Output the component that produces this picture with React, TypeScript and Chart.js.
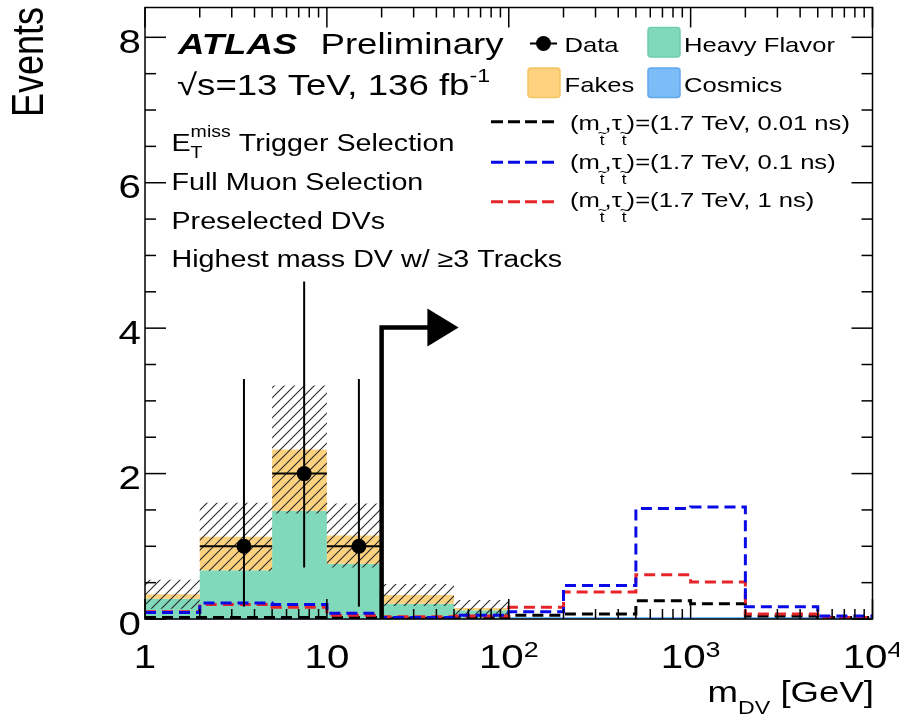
import React, { useEffect, useRef } from "react";
import { Chart, registerables } from "chart.js";

Chart.register(...registerables);

// ---------------- data ----------------
const binEdges = [1, 2, 5, 10, 20, 50, 100, 200, 500, 1000, 2000, 5000, 10000];
const cosmics = [0.01, 0.01, 0.01, 0.01, 0.01, 0.01, 0.01, 0.01, 0.01, 0.01, 0.01, 0.01];
const heavyFlavor = [0.27, 0.66, 1.48, 0.75, 0.2, 0.11, 0, 0, 0, 0, 0, 0];
const fakes = [0.06, 0.46, 0.84, 0.39, 0.12, 0.03, 0, 0, 0, 0, 0, 0];
const bkgUncertainty = [0.2, 0.47, 0.88, 0.44, 0.15, 0.11, 0, 0, 0, 0, 0, 0];

const dataX = [3.5, 7.5, 15];
const dataY = [1, 2, 1];
const dataBinLow = [2, 5, 10];
const dataBinHigh = [5, 10, 20];
const dataErrLow = [0.83, 1.29, 0.83];
const dataErrHigh = [2.3, 2.64, 2.3];

const signal001ns = [0.02, 0.02, 0.02, 0.02, 0.01, 0.02, 0.05, 0.07, 0.25, 0.21, 0.04, 0.02];
const signal01ns = [0.09, 0.22, 0.2, 0.08, 0.02, 0.05, 0.1, 0.46, 1.52, 1.54, 0.17, 0.04];
const signal1ns = [0.1, 0.2, 0.16, 0.05, 0.03, 0.04, 0.16, 0.37, 0.61, 0.51, 0.07, 0.02];

const yMajorTicks = [0, 2, 4, 6, 8];
const yMinorStep = 0.5;
const xMajorTicks = [1, 10, 100, 1000, 10000];
const xTickBase = ["1", "10", "10", "10", "10"];
const xTickExp = ["", "", "2", "3", "4"];
const xMinorMultipliers = [2, 3, 4, 5, 6, 7, 8, 9];

const cutValue = 20;
const arrowHeight = 4.01;
const arrowHeadBase = 35.7;
const arrowTip = 53;

// ---------------- helpers ----------------
const FONT = '"Liberation Sans", Arial, Helvetica, sans-serif';
const SX = 1.22;

const GREEN = "#80d9bb";
const ORANGE = "#fdd27f";
const LBLUE = "#7cbcf7";
const C_BLACK = "#000000";
const C_BLUE = "#0a0ae6";
const C_RED = "#e8242b";

type Seg = { t: string; size: number; dy?: number; ox?: number; adv?: boolean; style?: string };

function fontStr(s: Seg) {
  return `${s.style ? s.style + " " : ""}${s.size}px ${FONT}`;
}
function segWidth(ctx: CanvasRenderingContext2D, s: Seg) {
  ctx.save();
  ctx.font = fontStr(s);
  const w = ctx.measureText(s.t).width * SX;
  ctx.restore();
  return w;
}
function richWidth(ctx: CanvasRenderingContext2D, segs: Seg[]) {
  let w = 0;
  for (const s of segs) if (s.adv !== false) w += segWidth(ctx, s);
  return w;
}
function drawRich(ctx: CanvasRenderingContext2D, segs: Seg[], x: number, y: number, color = "#000") {
  let cx = x;
  for (const s of segs) {
    ctx.save();
    ctx.translate(cx + (s.ox || 0), y + (s.dy || 0));
    ctx.scale(SX, 1);
    ctx.font = fontStr(s);
    ctx.fillStyle = color;
    ctx.textAlign = "left";
    ctx.textBaseline = "alphabetic";
    ctx.fillText(s.t, 0, 0);
    ctx.restore();
    if (s.adv !== false) cx += segWidth(ctx, s);
  }
  return cx - x;
}

function stepPoints(vals: number[]) {
  return binEdges.map((x, i) => ({ x, y: vals[Math.min(i, vals.length - 1)] }));
}
function addArr(a: number[], b: number[]) {
  return a.map((v, i) => v + b[i]);
}

function makeHatch(): CanvasPattern | string {
  const c = document.createElement("canvas");
  c.width = 10;
  c.height = 10;
  const g = c.getContext("2d");
  if (!g) return "rgba(0,0,0,0.2)";
  g.strokeStyle = "#2a2a2a";
  g.lineWidth = 1.1;
  g.beginPath();
  g.moveTo(-1, 11);
  g.lineTo(11, -1);
  g.moveTo(-1, 1);
  g.lineTo(1, -1);
  g.moveTo(9, 11);
  g.lineTo(11, 9);
  g.stroke();
  return g.createPattern(c, "repeat") || "rgba(0,0,0,0.2)";
}

function tildeT(size: number, dy: number): Seg[] {
  // subscript t with a tilde on top
  return [
    { t: "~", size: size * 0.95, dy: dy - 8, ox: -2, adv: false },
    { t: "t", size, dy },
  ];
}

const overlay = {
  id: "overlay",
  afterDatasetsDraw(chart: any) {
    const ctx: CanvasRenderingContext2D = chart.ctx;
    const xs = chart.scales.x;
    const ys = chart.scales.y;
    const { left, right, top, bottom } = chart.chartArea;
    const line = (x1: number, y1: number, x2: number, y2: number) => {
      ctx.beginPath();
      ctx.moveTo(x1, y1);
      ctx.lineTo(x2, y2);
      ctx.stroke();
    };

    ctx.save();
    // data error bars
    ctx.strokeStyle = "#000";
    ctx.lineWidth = 2;
    for (let i = 0; i < dataX.length; i++) {
      const px = xs.getPixelForValue(dataX[i]);
      const py = ys.getPixelForValue(dataY[i]);
      line(px, ys.getPixelForValue(dataY[i] - dataErrLow[i]), px, ys.getPixelForValue(dataY[i] + dataErrHigh[i]));
      line(xs.getPixelForValue(dataBinLow[i]), py, xs.getPixelForValue(dataBinHigh[i]), py);
    }

    // cut arrow
    const ax = xs.getPixelForValue(cutValue);
    const ay = ys.getPixelForValue(arrowHeight);
    const ab = xs.getPixelForValue(arrowHeadBase);
    const at = xs.getPixelForValue(arrowTip);
    ctx.lineWidth = 4.5;
    ctx.lineJoin = "miter";
    ctx.beginPath();
    ctx.moveTo(ax, ys.getPixelForValue(0));
    ctx.lineTo(ax, ay);
    ctx.lineTo(ab + 1, ay);
    ctx.stroke();
    ctx.fillStyle = "#000";
    ctx.beginPath();
    ctx.moveTo(ab, ay - 19);
    ctx.lineTo(at, ay);
    ctx.lineTo(ab, ay + 19);
    ctx.closePath();
    ctx.fill();

    // frame
    ctx.lineWidth = 1.5;
    ctx.lineJoin = "miter";
    ctx.strokeRect(left, top, right - left, bottom - top);

    // y ticks
    for (let v = 0; v <= ys.max + 1e-9; v += yMinorStep) {
      const y = ys.getPixelForValue(v);
      const major = yMajorTicks.some((t) => Math.abs(t - v) < 1e-6);
      const L = major ? 21 : 11;
      line(left, y, left + L, y);
      line(right, y, right - L, y);
    }
    // x ticks
    for (let d = 0; d < xMajorTicks.length; d++) {
      const base = xMajorTicks[d];
      const x = xs.getPixelForValue(base);
      line(x, bottom, x, bottom - 20);
      line(x, top, x, top + 20);
      if (d < xMajorTicks.length - 1) {
        for (const m of xMinorMultipliers) {
          const xm = xs.getPixelForValue(base * m);
          line(xm, bottom, xm, bottom - 10);
          line(xm, top, xm, top + 10);
        }
      }
    }

    // y tick labels
    for (const v of yMajorTicks) {
      const y = ys.getPixelForValue(v);
      const segs: Seg[] = [{ t: String(v), size: 33 }];
      const w = richWidth(ctx, segs);
      drawRich(ctx, segs, 141 - w, y + 15.5);
    }
    // x tick labels
    for (let i = 0; i < xMajorTicks.length; i++) {
      const x = xs.getPixelForValue(xMajorTicks[i]);
      const segs: Seg[] = [{ t: xTickBase[i], size: 33 }];
      if (xTickExp[i]) segs.push({ t: xTickExp[i], size: 22, dy: -11 });
      const w = richWidth(ctx, segs);
      drawRich(ctx, segs, x - w / 2, 668);
    }

    // axis titles
    {
      const segs: Seg[] = [
        { t: "m", size: 30 },
        { t: "DV", size: 19, dy: 12 },
        { t: " [GeV]", size: 30 },
      ];
      const w = richWidth(ctx, segs);
      drawRich(ctx, segs, 874 - w, 701.5);
    }
    {
      ctx.save();
      ctx.translate(43, 7);
      ctx.scale(SX, 1);
      ctx.rotate(-Math.PI / 2);
      ctx.font = `36px ${FONT}`;
      ctx.fillStyle = "#000";
      ctx.textAlign = "right";
      ctx.textBaseline = "alphabetic";
      ctx.fillText("Events", 0, 0);
      ctx.restore();
    }

    // ATLAS label block
    drawRich(ctx, [{ t: "ATLAS", size: 30, style: "italic bold" }], 178, 53.5);
    drawRich(ctx, [{ t: "Preliminary", size: 30 }], 320.5, 53.5);
    drawRich(
      ctx,
      [
        { t: "\u221As=13 TeV, 136 fb", size: 30 },
        { t: "-1", size: 19, dy: -13 },
      ],
      177,
      95
    );
    drawRich(
      ctx,
      [
        { t: "E", size: 23.5 },
        { t: "T", size: 16, dy: 7, adv: false },
        { t: "miss", size: 16, dy: -14 },
        { t: " Trigger Selection", size: 23.5 },
      ],
      171.5,
      151
    );
    drawRich(ctx, [{ t: "Full Muon Selection", size: 23.5 }], 171.5, 189.5);
    drawRich(ctx, [{ t: "Preselected DVs", size: 23.5 }], 171.5, 228.5);
    drawRich(ctx, [{ t: "Highest mass DV w/ \u22653 Tracks", size: 23.5 }], 171.5, 267);

    // legend: Data
    ctx.lineWidth = 2;
    ctx.strokeStyle = "#000";
    line(530, 43.5, 557, 43.5);
    ctx.fillStyle = "#000";
    ctx.beginPath();
    ctx.arc(543.5, 43.5, 7.5, 0, Math.PI * 2);
    ctx.fill();
    drawRich(ctx, [{ t: "Data", size: 21 }], 564.5, 52);

    const box = (x: number, y: number, w: number, h: number, fill: string, stroke: string) => {
      ctx.save();
      ctx.fillStyle = fill;
      ctx.strokeStyle = stroke;
      ctx.lineWidth = 1.5;
      ctx.beginPath();
      (ctx as any).roundRect ? (ctx as any).roundRect(x, y, w, h, 3) : ctx.rect(x, y, w, h);
      ctx.fill();
      ctx.stroke();
      ctx.restore();
    };
    box(648, 27.5, 32, 29.5, GREEN, "#6fcfab");
    drawRich(ctx, [{ t: "Heavy Flavor", size: 21 }], 684, 52);
    box(528, 68, 32, 29.5, ORANGE, "#f5c463");
    drawRich(ctx, [{ t: "Fakes", size: 21 }], 564.5, 92);
    box(648, 68, 32, 29.5, LBLUE, "#5ea8ee");
    drawRich(ctx, [{ t: "Cosmics", size: 21 }], 684, 92);

    // legend: signals
    const sigLegend: [string, string, number, number][] = [
      [C_BLACK, "0.01 ns", 121.7, 130],
      [C_BLUE, "0.1 ns", 162.3, 168.5],
      [C_RED, "1 ns", 201.7, 207],
    ];
    for (const [col, tau, ly, by] of sigLegend) {
      ctx.save();
      ctx.strokeStyle = col;
      ctx.lineWidth = 3;
      ctx.setLineDash([12, 5]);
      line(491, ly, 557, ly);
      ctx.restore();
      drawRich(
        ctx,
        [
          { t: "(m", size: 21 },
          ...tildeT(14, 15),
          { t: ",\u03C4", size: 21 },
          ...tildeT(14, 15),
          { t: `)=(1.7 TeV, ${tau})`, size: 21 },
        ],
        570,
        by
      );
    }
    ctx.restore();
  },
};

export default function App() {
  const ref = useRef<HTMLCanvasElement>(null);
  useEffect(() => {
    const canvas = ref.current;
    if (!canvas) return;
    const hatch = makeHatch();
    const hfCum = addArr(cosmics, heavyFlavor);
    const fkCum = addArr(hfCum, fakes);
    const uncLow = fkCum.map((v, i) => v - bkgUncertainty[i]);
    const uncHigh = fkCum.map((v, i) => v + bkgUncertainty[i]);

    const stepDs = (label: string, vals: number[], extra: any) => ({
      label,
      data: stepPoints(vals),
      stepped: "before",
      pointRadius: 0,
      borderWidth: 0,
      ...extra,
    });

    const chart = new Chart(canvas, {
      type: "line",
      data: {
        datasets: [
          stepDs("Cosmics", cosmics, {
            fill: "origin",
            backgroundColor: LBLUE,
            borderColor: LBLUE,
            borderWidth: 2.5,
            order: 9,
            clip: { left: 0, top: 0, right: 0, bottom: 3 },
          }),
          stepDs("Heavy Flavor", hfCum, { fill: "-1", backgroundColor: GREEN, borderColor: "rgba(0,0,0,0)", order: 8 }),
          stepDs("Fakes", fkCum, { fill: "-1", backgroundColor: ORANGE, borderColor: "rgba(0,0,0,0)", order: 7 }),
          stepDs("Unc low", uncLow, { fill: false, borderColor: "rgba(0,0,0,0)", order: 6 }),
          stepDs("Unc high", uncHigh, { fill: "-1", backgroundColor: hatch, borderColor: "rgba(0,0,0,0)", order: 5 }),
          stepDs("0.01 ns", signal001ns, {
            fill: false,
            borderColor: C_BLACK,
            borderWidth: 3,
            borderDash: [11, 6],
            order: 4,
          }),
          stepDs("1 ns", signal1ns, {
            fill: false,
            borderColor: C_RED,
            borderWidth: 3,
            borderDash: [11, 6],
            order: 3,
          }),
          stepDs("0.1 ns", signal01ns, {
            fill: false,
            borderColor: C_BLUE,
            borderWidth: 3,
            borderDash: [11, 6],
            order: 2,
          }),
          {
            label: "Data",
            data: dataX.map((x, i) => ({ x, y: dataY[i] })),
            showLine: false,
            pointRadius: 7.5,
            pointBackgroundColor: "#000",
            pointBorderWidth: 0,
            borderColor: "#000",
            order: 1,
          },
        ] as any,
      },
      options: {
        animation: false,
        responsive: false,
        devicePixelRatio: 1,
        layout: { padding: { left: 145, right: 26.5, top: 7.3, bottom: 97 } },
        scales: {
          x: { type: "logarithmic", min: 1, max: 10000, display: false },
          y: { type: "linear", min: 0, max: 8.41, display: false },
        },
        plugins: {
          legend: { display: false },
          tooltip: { enabled: false },
        },
        events: [],
      } as any,
      plugins: [overlay as any],
    });
    return () => chart.destroy();
  }, []);

  return (
    <div style={{ position: "fixed", left: 0, top: 0, width: 899, height: 716, background: "#fff" }}>
      <canvas ref={ref} width={899} height={716} style={{ width: 899, height: 716, display: "block" }} />
    </div>
  );
}
